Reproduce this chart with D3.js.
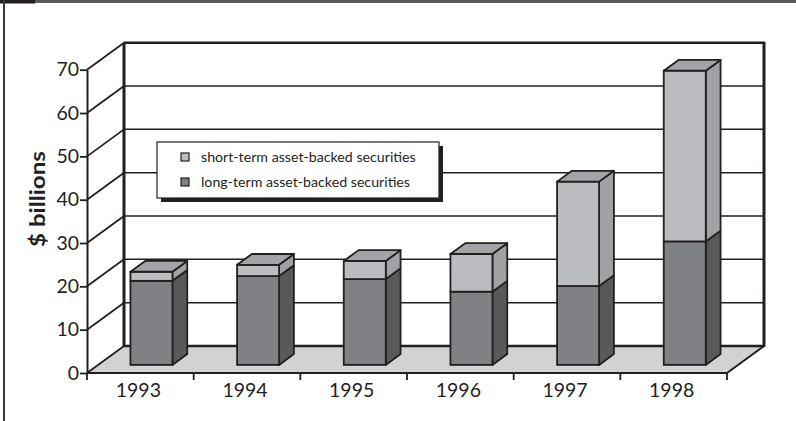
<!DOCTYPE html>
<html><head><meta charset="utf-8">
<script src="https://cdn.jsdelivr.net/npm/d3@7"></script>
<style>body{margin:0;background:#fff}svg{display:block}</style>
</head><body>
<svg id="c" width="796" height="421"></svg>
<script>
const years = ["1993","1994","1995","1996","1997","1998"];
const longTerm = [19.4, 20.5, 19.8, 16.9, 18.2, 28.5];
const shortTerm = [2.1, 2.6, 4.2, 8.7, 24.1, 39.4];
const yTicks = [0,10,20,30,40,50,60,70];
const seriesNames = ["short-term asset-backed securities","long-term asset-backed securities"];

const svg = d3.select("#c");
const FONT = "Lato, 'Open Sans', sans-serif";
const INK = "#231f20";
const DX = 37, DY = 27;       // depth of the 3D box
const F0 = 0.3, F1 = 0.7;     // bar depth range (fraction)

const x = d3.scaleBand().domain(years).range([87, 727]).paddingInner(0).paddingOuter(0);
const y = d3.scaleLinear().domain([0, 70]).range([373, 69.7]);

// frame
svg.append("rect").attr("x",0).attr("y",0).attr("width",796).attr("height",3).attr("fill","#58595b");
svg.append("rect").attr("x",0).attr("y",0).attr("width",35).attr("height",3.5).attr("fill","#231f20");
svg.append("rect").attr("x",3).attr("y",0).attr("width",2).attr("height",421).attr("fill","#3a3a3c");

const x0 = x.range()[0], x1 = x.range()[1];

// floor
svg.append("path")
  .attr("d", d3.line()([[x0,y(0)],[x1,y(0)],[x1+DX,y(0)-DY],[x0+DX,y(0)-DY]]) + "Z")
  .attr("fill","#d1d2d4").attr("stroke","none");

// back wall gridlines
svg.append("g").selectAll("line").data(yTicks).join("line")
  .attr("x1", x0+DX).attr("x2", x1+DX)
  .attr("y1", d => y(d)-DY).attr("y2", d => y(d)-DY)
  .attr("stroke", INK).attr("stroke-width", d => (d===0||d===70) ? 2.5 : 1.5);
// left wall diagonals
svg.append("g").selectAll("line").data(yTicks).join("line")
  .attr("x1", x0).attr("x2", x0+DX)
  .attr("y1", d => y(d)).attr("y2", d => y(d)-DY)
  .attr("stroke", INK).attr("stroke-width", 1.8);
// back wall verticals
svg.append("line").attr("x1",x0+DX).attr("x2",x0+DX).attr("y1",y(0)-DY).attr("y2",y(70)-DY)
  .attr("stroke",INK).attr("stroke-width",3);
svg.append("line").attr("x1",x1+DX).attr("x2",x1+DX).attr("y1",y(0)-DY+1).attr("y2",y(70)-DY-1)
  .attr("stroke",INK).attr("stroke-width",3);
// floor right edge
svg.append("line").attr("x1",x1).attr("x2",x1+DX).attr("y1",y(0)).attr("y2",y(0)-DY)
  .attr("stroke",INK).attr("stroke-width",2);

// bars
const bw = 42;
const stacks = years.map((yr,i) => ({yr, segs:[
  {v0:0, v1:longTerm[i], front:"#808184", side:"#58595b", top:"#a0a1a4"},
  {v0:longTerm[i], v1:longTerm[i]+shortTerm[i], front:"#bcbdc0", side:"#a0a1a4", top:"#a3a4a7"}
]}));
const gb = svg.append("g");
stacks.forEach(s => {
  const cx = x(s.yr) + x.bandwidth()/2;
  const fx = cx - bw/2 + F0*DX, fy = -F0*DY;
  const ddx = (F1-F0)*DX, ddy = (F1-F0)*DY;
  s.segs.forEach((g, k) => {
    const yb = y(g.v0)+fy, yt = y(g.v1)+fy;
    const xl = fx, xr = fx + bw;
    gb.append("path").attr("d", d3.line()([[xr,yb],[xr+ddx,yb-ddy],[xr+ddx,yt-ddy],[xr,yt]])+"Z")
      .attr("fill", g.side).attr("stroke", INK).attr("stroke-width",1.8).attr("stroke-linejoin","round");
    gb.append("rect").attr("x", xl).attr("y", yt).attr("width", bw).attr("height", yb-yt)
      .attr("fill", g.front).attr("stroke", INK).attr("stroke-width",1.8);
    if (k === s.segs.length-1) {
      gb.append("path").attr("d", d3.line()([[xl,yt],[xl+ddx,yt-ddy],[xr+ddx,yt-ddy],[xr,yt]])+"Z")
        .attr("fill", g.top).attr("stroke", INK).attr("stroke-width",1.8).attr("stroke-linejoin","round");
    }
  });
});

// y axis
const ya = svg.append("g").attr("transform", `translate(${x0},0)`)
  .call(d3.axisLeft(y).tickValues(yTicks).tickSize(7).tickSizeOuter(0).tickPadding(1));
ya.select(".domain").attr("stroke", INK).attr("stroke-width", 2);
ya.selectAll(".tick line").attr("stroke", INK).attr("stroke-width", 1.8);
ya.selectAll("text").attr("font-family", FONT).attr("font-size", 19.5).attr("fill", INK);

// x axis
svg.append("line").attr("x1",x0).attr("x2",x1).attr("y1",y(0)).attr("y2",y(0))
  .attr("stroke",INK).attr("stroke-width",2.2);
const bounds = years.map(d => x(d)).concat([x1]);
svg.append("g").selectAll("line").data(bounds).join("line")
  .attr("x1", d=>d).attr("x2", d=>d).attr("y1", y(0)).attr("y2", y(0)+7)
  .attr("stroke", INK).attr("stroke-width", 1.8);
const xa = svg.append("g").attr("transform", `translate(0,${y(0)})`)
  .call(d3.axisBottom(x).tickSize(0).tickPadding(10));
xa.select(".domain").remove();
xa.selectAll("text").attr("font-family", FONT).attr("font-size", 19.5).attr("fill", INK)
  .attr("dx", -2);

// y label
svg.append("text").attr("transform","translate(45,199) rotate(-90)")
  .attr("text-anchor","middle").attr("font-family",FONT).attr("font-weight","bold")
  .attr("font-size",21).attr("textLength",96).attr("lengthAdjust","spacingAndGlyphs")
  .attr("fill",INK).text("$ billions");

// legend
const lg = svg.append("g");
lg.append("rect").attr("x",161).attr("y",146).attr("width",282).attr("height",56).attr("fill",INK);
lg.append("rect").attr("x",157).attr("y",142).attr("width",282).attr("height",56)
  .attr("fill","#fff").attr("stroke",INK).attr("stroke-width",1.2);
const lcol = ["#bcbdc0","#808184"];
seriesNames.forEach((n,i) => {
  lg.append("rect").attr("x",181).attr("y",153+i*25).attr("width",8).attr("height",8)
    .attr("fill",lcol[i]).attr("stroke",INK).attr("stroke-width",1.2);
  lg.append("text").attr("x",201).attr("y",161.5+i*25).attr("font-family",FONT)
    .attr("font-size",14.2).attr("fill",INK).text(n);
});
</script>
</body></html>
